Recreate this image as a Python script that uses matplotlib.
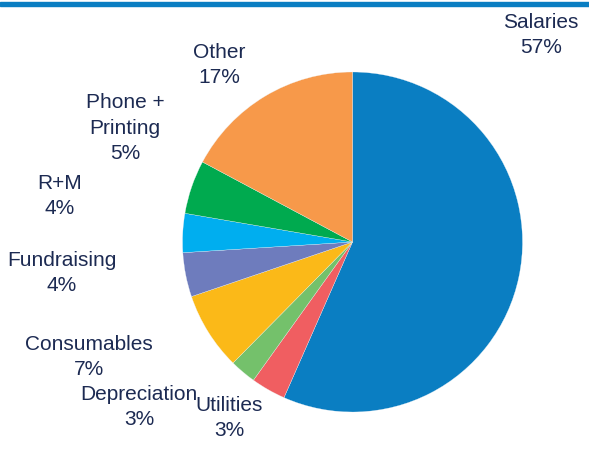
import matplotlib
matplotlib.use("Agg")
import matplotlib.pyplot as plt
from matplotlib.patches import Rectangle

# Budget breakdown, clockwise from 12 o'clock
categories = ["Salaries", "Utilities", "Depreciation", "Consumables",
              "Fundraising", "R+M", "Phone +\nPrinting", "Other"]
# wedge sizes (labels show rounded values)
shares = [56.6, 3.3, 2.5, 7.4, 4.2, 3.7, 5.1, 17.2]
pct_labels = ["57%", "3%", "3%", "7%", "4%", "4%", "5%", "17%"]
colors = ["#0A7EC2", "#F05E61", "#74C16B", "#FBB918",
          "#6E7CBD", "#00AEEF", "#00AA4F", "#F7994A"]

# label anchor points in pixels (x, y from top)
label_pos = [(541, 35), (229, 418), (139, 407), (89, 357),
             (62, 273), (60, 196), (125, 128), (219, 65)]

text_color = "#1C2A52"
W, H = 589, 450

fig = plt.figure(figsize=(W / 100, H / 100), dpi=100)
ax = fig.add_axes([0, 0, 1, 1])
ax.set_aspect("equal")
ax.axis("off")

# pie centred at (352.5, 242) px from top-left, radius 170
ax.pie(shares, colors=colors, startangle=90, counterclock=False,
       center=(352.5, H - 242), radius=170,
       wedgeprops=dict(linewidth=0.2, edgecolor="#f0f4f8"))
ax.set_xlim(0, W)
ax.set_ylim(0, H)

for cat, pct, (x, y) in zip(categories, pct_labels, label_pos):
    ax.text(x, H - y, f"{cat}\n{pct}", ha="center", va="center",
            fontsize=15, family="Liberation Sans", color=text_color,
            linespacing=1.45)

# blue rule along the top edge
fig.patches.append(Rectangle((0, (H - 6) / H), 1, 4 / H, transform=fig.transFigure,
                             color="#0A7EC2", zorder=5))

fig.savefig("out.png", dpi=100)
